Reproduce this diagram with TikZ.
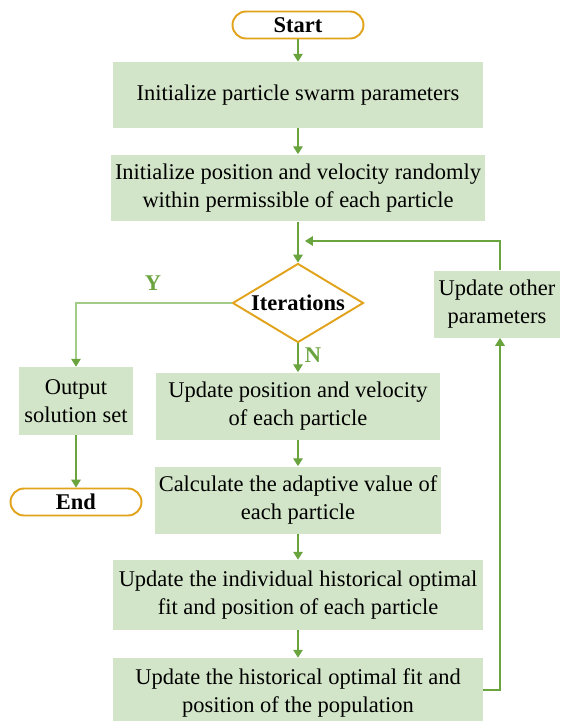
\documentclass[tikz,border=0pt]{standalone}
\usepackage{fontspec}
\setmainfont{Liberation Serif}
\usetikzlibrary{shapes.geometric,arrows.meta}
\definecolor{boxgreen}{HTML}{D3E5C8}
\definecolor{linegreen}{HTML}{6AA43F}
\definecolor{lightline}{HTML}{A3CD86}
\definecolor{termorange}{HTML}{E2A31C}
\begin{document}
\begin{tikzpicture}[x=0.02cm, y=-0.02cm,
  font=\fontsize{12.8}{15.9}\selectfont,
  stepbox/.style={fill=boxgreen, align=center, inner sep=2pt},
  term/.style={draw=termorange, line width=1.1pt, fill=white, rounded corners=0.27cm,
    minimum width=2.62cm, minimum height=0.54cm, inner sep=0pt, font=\fontsize{12.8}{15.9}\selectfont\bfseries},
  decide/.style={draw=termorange, line width=1.1pt, diamond, aspect=1.66, inner sep=0pt,
    minimum width=2.62cm, minimum height=1.58cm, font=\fontsize{12.8}{15.9}\selectfont\bfseries},
  flow/.style={draw=linegreen, line width=0.6pt, -{Triangle[length=4.5pt,width=5.5pt,color=linegreen]}},
  yn/.style={text=linegreen, font=\fontsize{12.8}{15.9}\selectfont\bfseries}]
\useasboundingbox (0,0) rectangle (561,721);
\def\wide{7.4cm}
\def\mid{5.7cm}
\path (298,25) node[term] (start) {Start};
\path (298,95) node[stepbox, minimum width=\wide, minimum height=1.32cm] (init) {Initialize particle swarm parameters};
\path (298,188) node[stepbox, minimum width=\wide, minimum height=1.34cm] (initpos) {Initialize position and velocity randomly\\within permissible of each particle};
\path (298,303) node[decide] (iter) {Iterations};
\path (76,401) node[stepbox, minimum width=2.3cm, minimum height=1.36cm] (output) {Output\\solution set};
\path (76,502) node[term] (end) {End};
\path (298,406) node[stepbox, minimum width=\mid, minimum height=1.34cm] (updpos) {Update position and velocity\\of each particle};
\path (298,500) node[stepbox, minimum width=\mid, minimum height=1.34cm] (calc) {Calculate the adaptive value of\\each particle};
\path (298,595) node[stepbox, minimum width=\wide, minimum height=1.40cm] (updind) {Update the individual historical optimal\\fit and position of each particle};
\path (298,693) node[stepbox, minimum width=\wide, minimum height=1.40cm] (updhist) {Update the historical optimal fit and\\position of the population};
\path (497,304) node[stepbox, minimum width=2.52cm, minimum height=1.34cm] (other) {Update other\\parameters};
\coordinate (back) at (305,241);
\coordinate (turn) at (500,690);

\draw[flow] (start) -- (init);
\draw[flow] (init) -- (initpos);
\draw[flow] (initpos) -- (iter);
\draw[flow, draw=lightline] (iter.west) -| (output.north);
\path (153,283) node[yn] {Y};
\draw[flow] (output) -- (end);
\draw[flow] (iter.south) -- (updpos.north);
\path (313,355) node[yn] {N};
\draw[flow] (updpos) -- (calc);
\draw[flow] (calc) -- (updind);
\draw[flow] (updind) -- (updhist.north);
\draw[flow] (updhist.east |- turn) -- (turn) -- (turn |- other.south);
\draw[flow] (other.north -| turn) |- (back);
\end{tikzpicture}
\end{document}
